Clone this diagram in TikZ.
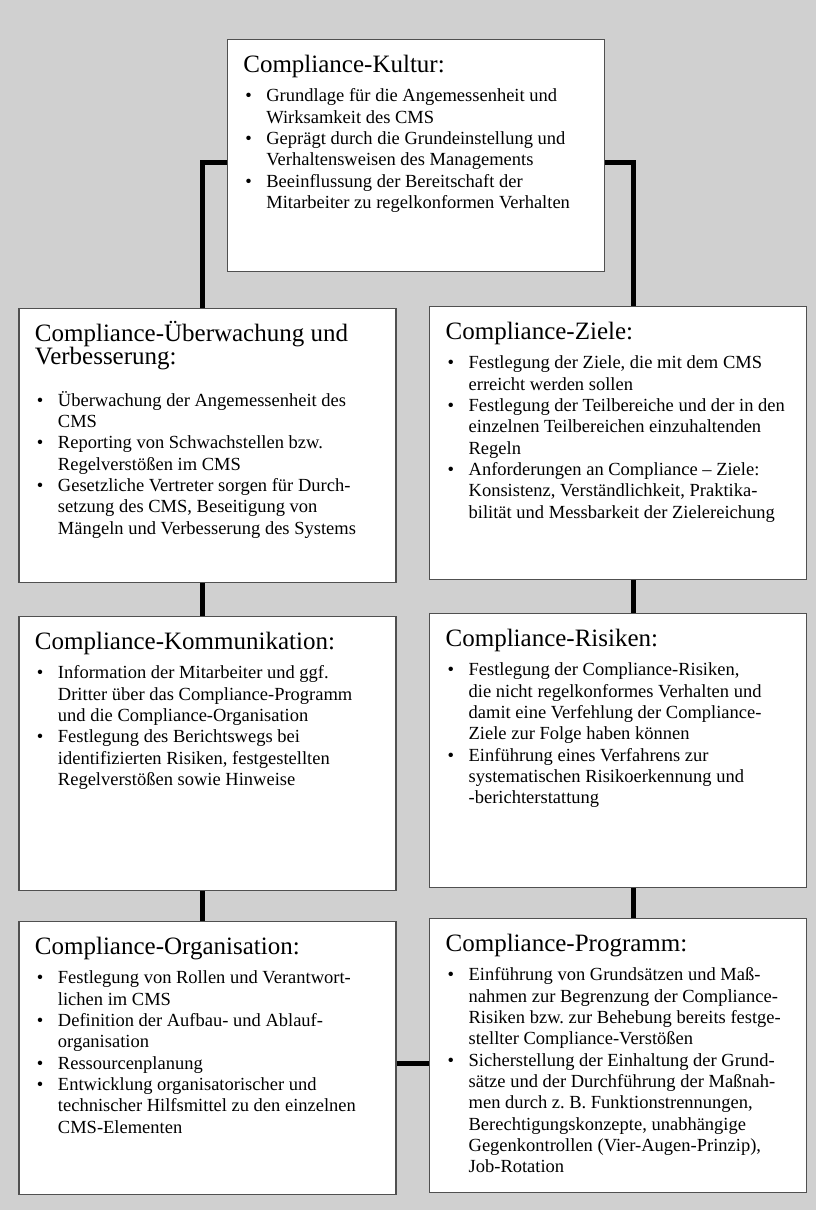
\documentclass[tikz,border=0pt]{standalone}
\usepackage{fontspec}
\setmainfont{Liberation Serif}
\frenchspacing
\definecolor{hintergrund}{RGB}{208,208,208}
\definecolor{rahmen}{RGB}{80,80,80}
\newcommand{\kopf}{\fontsize{25}{23.3}\selectfont}
\newcommand{\rumpf}{\fontsize{18.5}{21.3}\selectfont}
\newcommand{\punkt}[1]{\par\hangindent=23pt\hangafter=1\noindent\makebox[23pt][l]{\hspace{2pt}\textbullet}{\let\\\newline #1}}
\newcommand{\feld}[4][8pt]{\parbox[t][#2][t]{345pt}{\raggedright{\kopf\rule{0pt}{24pt}#3\par}\vspace{#1}\rumpf #4\par}}
\tikzset{
  kasten/.style={draw=rahmen, line width=1.3pt, fill=white, anchor=north west, inner xsep=16pt, inner ysep=9pt},
  linie/.style={line width=5pt, black}
}
\begin{document}
\begin{tikzpicture}[x=1pt,y=-1pt]
	% Hintergrund
	\fill[hintergrund] (0,0) rectangle (816,1210);
	\useasboundingbox (0,0) rectangle (816,1210);
	
	% Kästen
	\node[kasten] (kultur) at (226.7,39) {\feld{214pt}{Compliance-Kultur:}{%
		\punkt{Grundlage für die Angemessenheit und\\Wirksamkeit des CMS}
		\punkt{Geprägt durch die Grundeinstellung und\\Verhaltensweisen des Managements}
		\punkt{Beeinflussung der Bereitschaft der\\Mitarbeiter zu regelkonformen Verhalten}}};
	\node[kasten] (ueberw) at (18.3,308) {\feld[20pt]{256pt}{Compliance-Überwachung und\\Verbesserung:}{%
		\punkt{Überwachung der Angemessenheit des\\CMS}
		\punkt{Reporting von Schwachstellen bzw.\\Regelverstößen im CMS}
		\punkt{Gesetzliche Vertreter sorgen für Durch-\\setzung des CMS, Beseitigung von\\Mängeln und Verbesserung des Systems}}};
	\node[kasten] (ziele) at (429,306) {\feld{255pt}{Compliance-Ziele:}{%
		\punkt{Festlegung der Ziele, die mit dem CMS\\erreicht werden sollen}
		\punkt{Festlegung der Teilbereiche und der in den\\einzelnen Teilbereichen einzuhaltenden\\Regeln}
		\punkt{Anforderungen an Compliance – Ziele:\\Konsistenz, Verständlichkeit, Praktika-\\bilität und Messbarkeit der Zielereichung}}};
	\node[kasten] (komm) at (18.3,616) {\feld{256pt}{Compliance-Kommunikation:}{%
		\punkt{Information der Mitarbeiter und ggf.\\Dritter über das Compliance-Programm\\und die Compliance-Organisation}
		\punkt{Festlegung des Berichtswegs bei\\identifizierten Risiken, festgestellten\\Regelverstößen sowie Hinweise}}};
	\node[kasten] (risiken) at (429,613) {\feld{256pt}{Compliance-Risiken:}{%
		\punkt{Festlegung der Compliance-Risiken,\\die nicht regelkonformes Verhalten und\\damit eine Verfehlung der Compliance-\\Ziele zur Folge haben können}
		\punkt{Einführung eines Verfahrens zur\\systematischen Risikoerkennung und\\-berichterstattung}}};
	\node[kasten] (orga) at (18.3,921) {\feld{255pt}{Compliance-Organisation:}{%
		\punkt{Festlegung von Rollen und Verantwort-\\lichen im CMS}
		\punkt{Definition der Aufbau- und Ablauf-\\organisation}
		\punkt{Ressourcenplanung}
		\punkt{Entwicklung organisatorischer und\\technischer Hilfsmittel zu den einzelnen\\CMS-Elementen}}};
	\node[kasten] (programm) at (429,918) {\feld{256pt}{Compliance-Programm:}{%
		\punkt{Einführung von Grundsätzen und Maß-\\nahmen zur Begrenzung der Compliance-\\Risiken bzw. zur Behebung bereits festge-\\stellter Compliance-Verstößen}
		\punkt{Sicherstellung der Einhaltung der Grund-\\sätze und der Durchführung der Maßnah-\\men durch z. B. Funktionstrennungen,\\Berechtigungskonzepte, unabhängige\\Gegenkontrollen (Vier-Augen-Prinzip),\\Job-Rotation}}};
	
	% Verbindungen
	\draw[linie] ([yshift=-7pt]kultur.west) -| ([xshift=-5pt]ueberw.north);
	\draw[linie] ([yshift=-7pt]kultur.east) -| ([xshift=15pt]ziele.north);
	\draw[linie] ([xshift=-5pt]ueberw.south) -- ([xshift=-5pt]komm.north);
	\draw[linie] ([xshift=-5pt]komm.south) -- ([xshift=-5pt]orga.north);
	\draw[linie] ([xshift=15pt]ziele.south) -- ([xshift=15pt]risiken.north);
	\draw[linie] ([xshift=15pt]risiken.south) -- ([xshift=15pt]programm.north);
	\draw[linie] ([yshift=-5.5pt]orga.east) coordinate (oe) -- (oe -| programm.west);
\end{tikzpicture}
\end{document}
